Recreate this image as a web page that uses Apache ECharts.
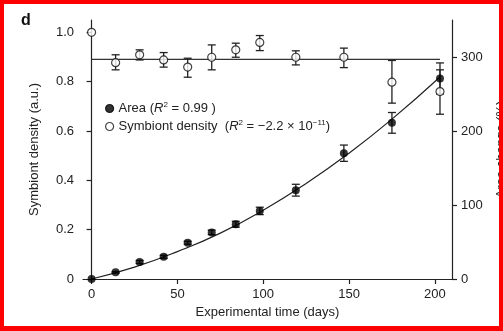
<!DOCTYPE html>
<html>
<head>
<meta charset="utf-8">
<script src="https://cdn.jsdelivr.net/npm/echarts@6/dist/echarts.min.js"></script>
<style>
  html, body { margin: 0; padding: 0; background: #fff; }
  #wrap { position: relative; width: 503px; height: 331px; }
  #chart { position: absolute; left: 0; top: 0; width: 503px; height: 331px; }
  #frame { position: absolute; left: 0; top: 0; width: 503px; height: 331px; box-sizing: border-box;
           border-style: solid; border-color: #ff0000; border-width: 4px 4px 5px 4px; pointer-events: none; z-index: 10; }
</style>
</head>
<body>
<div id="wrap"><div id="chart"></div><div id="frame"></div></div>
<script>
// ---- data ----
const days = [0, 14, 28, 42, 56, 70, 84, 98, 119, 147, 175, 203];
// Area change (%) – right axis
const areaPct = [0, 9, 23, 30, 49, 63, 74, 92, 120, 170, 211, 271];
const areaErr = [0, 1, 2, 2, 2, 3, 4, 5, 8, 11, 14, 21];
// Symbiont density (a.u.) – left axis
const density     = [1.0, 0.877, 0.909, 0.888, 0.859, 0.899, 0.929, 0.959, 0.899, 0.899, 0.798, 0.760];
const densityLow  = [null, 0.848, 0.888, 0.859, 0.818, 0.848, 0.899, 0.926, 0.868, 0.857, 0.713, 0.668];
const densityHigh = [null, 0.909, 0.929, 0.918, 0.895, 0.949, 0.956, 0.987, 0.925, 0.936, 0.886, 0.848];
// fitted curves
const areaFitDays = [0, 25, 50, 75, 100, 125, 150, 175, 203];
const areaFitPct  = [0, 16, 37, 62, 93, 129, 170, 216, 273];
const densityFitDays  = [0, 203];
const densityFitValue = [0.89, 0.89];
// ticks
const xTicks = [0, 50, 100, 150, 200];
const leftTicks = [0, 0.2, 0.4, 0.6, 0.8, 1.0];
const rightTicks = [0, 100, 200, 300];

const FONT = "'Liberation Sans', Arial, sans-serif";
const INK = '#222';

const areaPts = days.map((d, i) => [d, areaPct[i]]);
const areaErrPts = days.map((d, i) => [d, areaPct[i] - areaErr[i], areaPct[i] + areaErr[i]]).filter((p, i) => areaErr[i] > 0);
const densPts = days.map((d, i) => [d, density[i]]);
const densErrPts = days.map((d, i) => [d, densityLow[i], densityHigh[i]]).filter(p => p[1] != null);

function renderErr(params, api) {
  const x = api.value(0);
  const lo = api.coord([x, api.value(1)]);
  const hi = api.coord([x, api.value(2)]);
  const w = 4;
  const st = { stroke: INK, lineWidth: 1.3 };
  return {
    type: 'group',
    children: [
      { type: 'line', shape: { x1: lo[0], y1: lo[1], x2: hi[0], y2: hi[1] }, style: st },
      { type: 'line', shape: { x1: lo[0] - w, y1: lo[1], x2: lo[0] + w, y2: lo[1] }, style: st },
      { type: 'line', shape: { x1: hi[0] - w, y1: hi[1], x2: hi[0] + w, y2: hi[1] }, style: st }
    ]
  };
}

const axisCommon = {
  axisLine: { show: true, lineStyle: { color: INK, width: 1.2 } },
  axisTick: { show: true, length: 5, lineStyle: { color: INK, width: 1.2 } },
  splitLine: { show: false },
  nameTextStyle: { fontFamily: FONT, fontSize: 13, color: INK },
};

const chart = echarts.init(document.getElementById('chart'), null, { renderer: 'canvas' });
chart.setOption({
  animation: false,
  backgroundColor: '#fff',
  textStyle: { fontFamily: FONT },
  grid: { left: 83, right: 51, top: 20, bottom: 52, containLabel: false, outerBoundsMode: 'none' },
  graphic: [{
    type: 'text', left: 21, top: 13,
    style: { text: 'd', font: 'bold 16px ' + FONT, fill: '#111' }
  }],
  legend: {
    show: true, orient: 'vertical', left: 100, top: 96, itemGap: 4,
    itemWidth: 8, itemHeight: 8, itemStyle: { borderWidth: 1.2 },
    data: [{ name: 'Area', icon: 'circle' }, { name: 'Symbiont density', icon: 'circle' }],
    textStyle: {
      fontFamily: FONT, fontSize: 13, color: INK,
      rich: {
        i: { fontFamily: FONT, fontSize: 13, fontStyle: 'italic', color: INK },
        s: { fontFamily: FONT, fontSize: 8, color: INK, verticalAlign: 'bottom', padding: [0, 0, 7, 0] },
        t: { fontFamily: FONT, fontSize: 13, color: INK }
      }
    },
    formatter: function (name) {
      if (name === 'Area') return '{t|Area (}{i|R}{s|2}{t| = 0.99 )}';
      return '{t|Symbiont density  (}{i|R}{s|2}{t| = \u22122.2 \u00d7 10}{s|\u221211}{t|)}';
    }
  },
  xAxis: Object.assign({}, axisCommon, {
    type: 'value', min: -5, max: 210,
    name: 'Experimental time (days)', nameLocation: 'middle', nameGap: 22,
    axisTick: Object.assign({}, axisCommon.axisTick, { customValues: xTicks }),
    axisLabel: { customValues: xTicks, fontFamily: FONT, fontSize: 13, color: INK, margin: 9 }
  }),
  yAxis: [
    Object.assign({}, axisCommon, {
      type: 'value', min: 0, max: 1.05, position: 'left',
      name: 'Symbiont density (a.u.)', nameLocation: 'middle', nameGap: 42,
      axisTick: Object.assign({}, axisCommon.axisTick, { customValues: leftTicks }),
      axisLabel: { customValues: leftTicks, fontFamily: FONT, fontSize: 13, color: INK, margin: 9,
        formatter: v => (v === 0 ? '0' : v.toFixed(1)) }
    }),
    Object.assign({}, axisCommon, {
      type: 'value', min: 0, max: 350, position: 'right',
      name: 'Area change (%)', nameLocation: 'middle', nameGap: 43, nameRotate: 90,
      axisTick: Object.assign({}, axisCommon.axisTick, { customValues: rightTicks }),
      axisLabel: { customValues: rightTicks, fontFamily: FONT, fontSize: 13, color: INK, margin: 9 }
    })
  ],
  series: [
    { name: 'Density fit', type: 'line', yAxisIndex: 0, showSymbol: false, symbol: 'none',
      data: densityFitDays.map((d, i) => [d, densityFitValue[i]]),
      lineStyle: { color: '#333', width: 1.3 }, z: 1, silent: true },
    { name: 'Area fit', type: 'line', yAxisIndex: 1, showSymbol: false, symbol: 'none', smooth: true,
      data: areaFitDays.map((d, i) => [d, areaFitPct[i]]),
      lineStyle: { color: '#222', width: 1.2 }, z: 1, silent: true },
    { name: 'Density err', type: 'custom', yAxisIndex: 0, renderItem: renderErr,
      encode: { x: 0, y: [1, 2] }, data: densErrPts, z: 2, silent: true },
    { name: 'Area err', type: 'custom', yAxisIndex: 1, renderItem: renderErr,
      encode: { x: 0, y: [1, 2] }, data: areaErrPts, z: 2, silent: true },
    { name: 'Symbiont density', type: 'scatter', yAxisIndex: 0, data: densPts, symbol: 'circle', symbolSize: 8,
      itemStyle: { color: '#fff', borderColor: '#111', borderWidth: 1.2 }, z: 3 },
    { name: 'Area', type: 'scatter', yAxisIndex: 1, data: areaPts, symbol: 'circle', symbolSize: 8,
      itemStyle: { color: '#000', borderColor: '#000', borderWidth: 0 }, z: 4 }
  ]
});
</script>
</body>
</html>
